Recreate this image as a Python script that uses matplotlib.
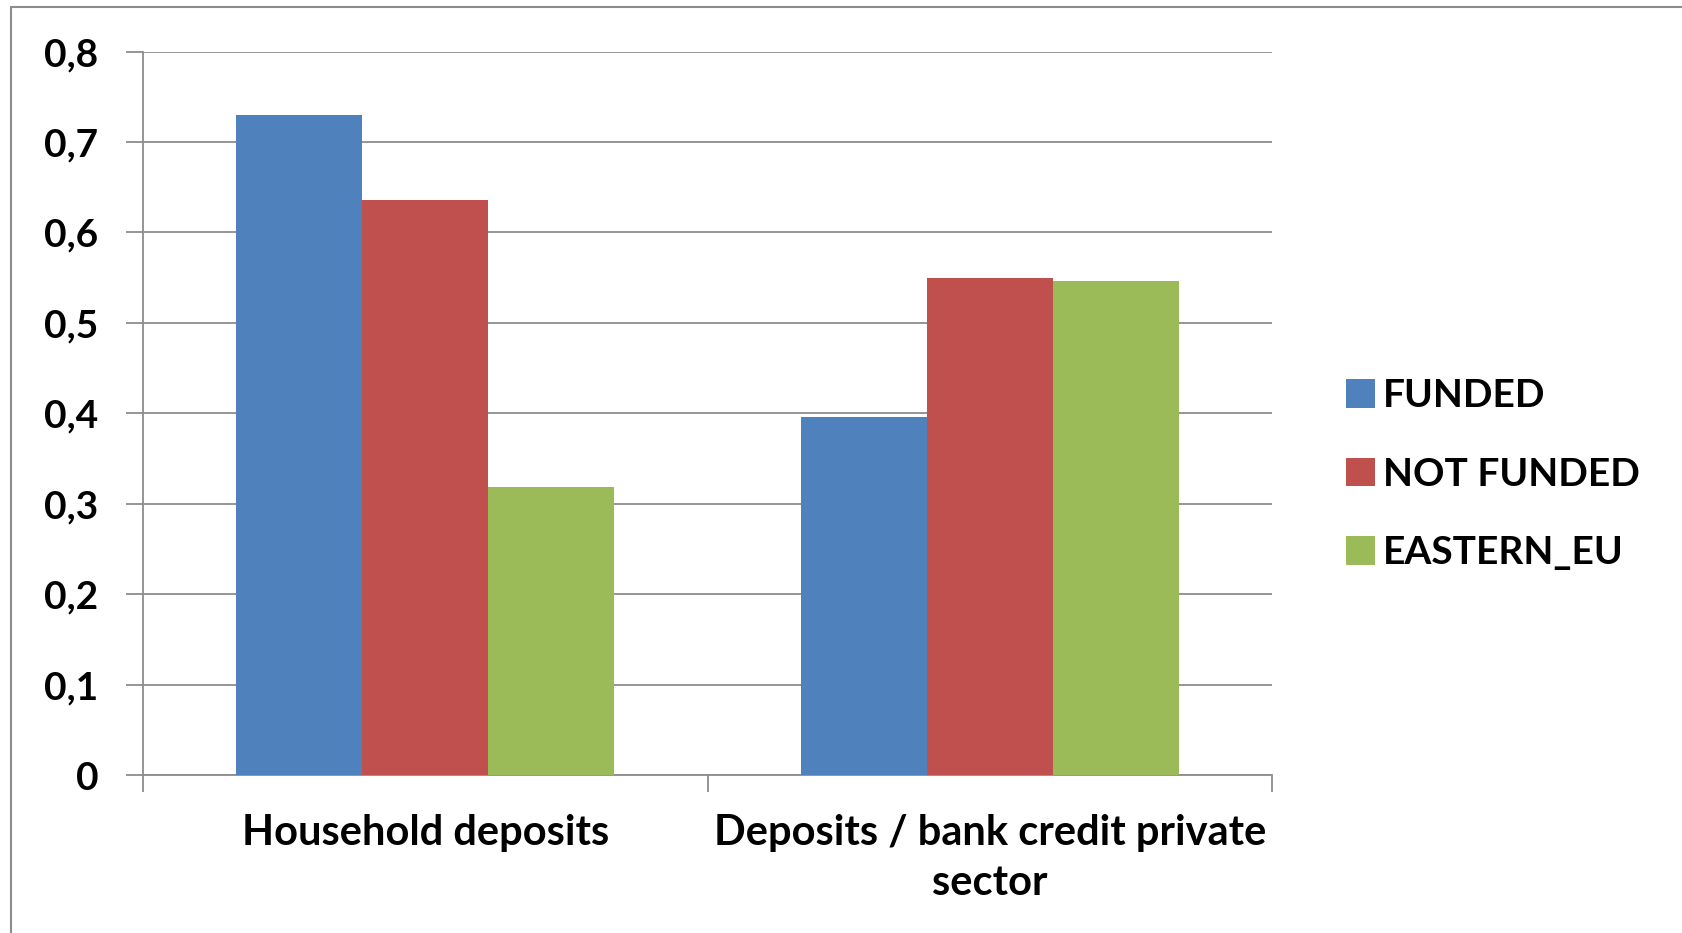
import matplotlib
matplotlib.use('Agg')
import matplotlib.pyplot as plt
from matplotlib.patches import Rectangle
from matplotlib.ticker import FuncFormatter, FixedLocator
import numpy as np

categories = ['Household deposits', 'Deposits / bank credit private\nsector']
series_names = ['FUNDED', 'NOT FUNDED', 'EASTERN_EU']
funded = [0.730, 0.396]
not_funded = [0.636, 0.549]
eastern_eu = [0.318, 0.546]
colors = ['#4F81BD', '#C0504D', '#9BBB59']

W, H = 1683, 933
fig = plt.figure(figsize=(W / 100, H / 100), dpi=100)
plt.rcParams['font.family'] = ['Lato', 'DejaVu Sans']
FS = 28

# axes placed in pixel coordinates of the reference
left, right, top, bottom = 143, 1272, 51.5, 775
ax = fig.add_axes([left / W, 1 - bottom / H, (right - left) / W, (bottom - top) / H])

x = np.arange(len(categories))
bw = 0.223
for i, (vals, name) in enumerate(zip([funded, not_funded, eastern_eu], series_names)):
    ax.bar(x + (i - 1) * bw, vals, bw, color=colors[i], label=name, zorder=3)

ax.set_xlim(-0.5, 1.5)
ax.set_ylim(0, 0.8)
ax.set_yticks(np.arange(0, 0.81, 0.1))
ax.yaxis.set_major_formatter(FuncFormatter(lambda v, p: '0' if v == 0 else f'{v:.1f}'.replace('.', ',')))
ax.grid(axis='y', color='#8c8c8c', linewidth=1.3, zorder=0)

ax.xaxis.set_major_locator(FixedLocator([-0.5, 0.5, 1.5]))
ax.xaxis.set_minor_locator(FixedLocator(x))
ax.set_xticklabels([], minor=False)
ax.set_xticklabels(categories, minor=True, fontsize=30, fontweight='bold', linespacing=1.4)
ax.tick_params(axis='x', which='minor', length=0, pad=28)
ax.tick_params(axis='x', which='major', length=12, width=1.3, color='#8c8c8c', direction='out')
ax.tick_params(axis='y', length=12, width=1.3, color='#8c8c8c', labelsize=FS, pad=20)
for lab in ax.get_yticklabels():
    lab.set_fontweight('bold')

for s in ['top', 'right']:
    ax.spines[s].set_visible(False)
for s in ['left', 'bottom']:
    ax.spines[s].set_color('#8c8c8c')
    ax.spines[s].set_linewidth(1.3)

leg = fig.legend(loc='upper left', bbox_to_anchor=(1311 / W, 1 - 343 / H), frameon=False,
                 prop={'size': FS, 'weight': 'bold'}, handlelength=0.75, handleheight=0.75,
                 handletextpad=0.2, labelspacing=1.12)

# outer chart frame
fig.patches.append(Rectangle((11 / W, -0.1), 1.2, 1 - 7 / H + 0.1, transform=fig.transFigure,
                             fill=False, edgecolor='#8c8c8c', linewidth=1.5))

fig.savefig('out.png', dpi=100)
